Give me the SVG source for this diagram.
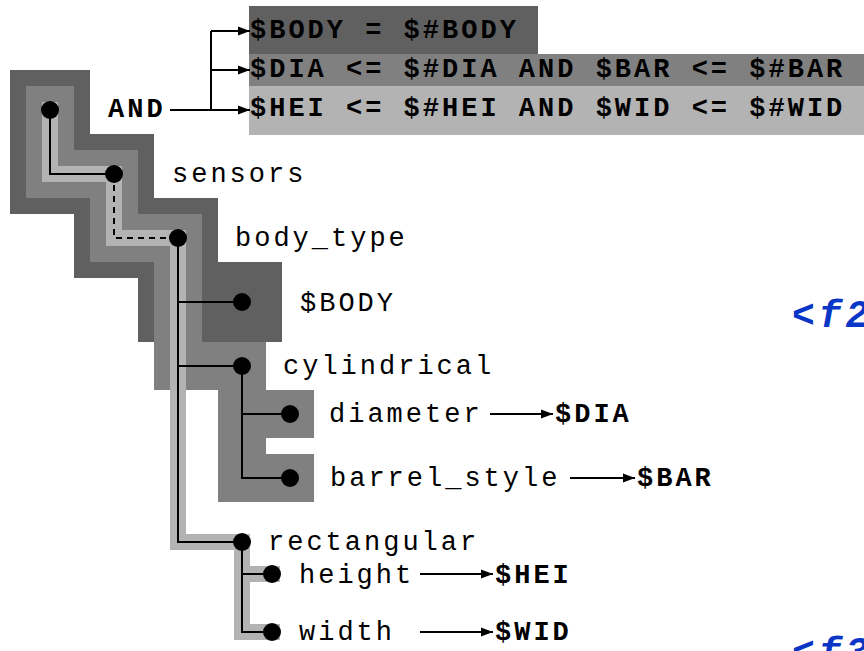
<svg xmlns="http://www.w3.org/2000/svg" width="864" height="651" viewBox="0 0 864 651">
<style>
.t{font-family:"Liberation Mono","Courier New",monospace;font-size:27px;letter-spacing:3px;fill:#000}
.b{font-weight:bold}
.blue{font-family:"Liberation Mono","Courier New",monospace;font-size:38px;letter-spacing:4px;font-weight:bold;font-style:italic;fill:#0a36c8}
.ln{stroke:#000;stroke-width:2;fill:none}
.dash{stroke-dasharray:6 5}
.arr{stroke:#000;stroke-width:2;fill:none;marker-end:url(#ah)}
.dot{fill:#000}
.band{fill:none;stroke-linecap:square;stroke-linejoin:miter}
</style>
<defs>
<marker id="ah" viewBox="0 0 12 10" refX="12" refY="5" markerWidth="12" markerHeight="10" markerUnits="userSpaceOnUse" orient="auto">
<path d="M0,0.5 L12,5 L0,9.5 Z" fill="#000"/>
</marker>
</defs>
<rect width="864" height="651" fill="#fff"/>
<!-- shading bands -->
<g id="shading">
<path class="band" stroke="#606060" stroke-width="80" d="M50,110 V174 H114 V238 H178 V302 H242"/>
<path class="band" stroke="#808080" stroke-width="48" d="M50,110 V174 H114 V238 H178 V366 H242 V478 H290 M242,414 H290"/>
<path class="band" stroke="#b3b3b3" stroke-width="16" d="M50,110 V174 H114 V238 H178 V542 H242 V632 H272 M242,574 H272"/>
</g>
<!-- condition boxes -->
<g id="conditions">
<rect x="249" y="6" width="289" height="48" fill="#606060"/>
<rect x="249" y="54" width="615" height="32" fill="#808080"/>
<rect x="249" y="86" width="615" height="49" fill="#b3b3b3"/>
<text class="t b" x="250" y="38">$BODY = $#BODY</text>
<text class="t b" x="250" y="77">$DIA &lt;= $#DIA AND $BAR &lt;= $#BAR</text>
<text class="t b" x="250" y="116">$HEI &lt;= $#HEI AND $WID &lt;= $#WID</text>
</g>
<!-- connectors -->
<g id="connectors">
<path class="ln" d="M50,110 V174 H114"/>
<path class="ln dash" d="M114,174 V238 H178"/>
<path class="ln" d="M178,238 V542 H242 M178,302 H242 M178,366 H242"/>
<path class="ln" d="M242,366 V478 H290 M242,414 H290"/>
<path class="ln" d="M242,542 V632 H272 M242,574 H272"/>
<path class="ln" d="M170,110 H211 M211,31 V110"/>
<path class="arr" d="M211,31 H250"/>
<path class="arr" d="M211,70 H250"/>
<path class="arr" d="M211,110 H250"/>
<path class="arr" d="M490,414 H553"/>
<path class="arr" d="M570,478 H635"/>
<path class="arr" d="M420,574 H493"/>
<path class="arr" d="M420,632 H493"/>
</g>
<!-- nodes -->
<g id="node-and"><circle class="dot" cx="50" cy="110" r="9"/><text class="t b" x="108" y="117">AND</text></g>
<g id="node-sensors"><circle class="dot" cx="114" cy="174" r="9"/><text class="t" x="172" y="182">sensors</text></g>
<g id="node-body_type"><circle class="dot" cx="178" cy="238" r="9"/><text class="t" x="235" y="246">body_type</text></g>
<g id="node-body"><circle class="dot" cx="242" cy="302" r="9"/><text class="t" x="300" y="311">$BODY</text></g>
<g id="node-cylindrical"><circle class="dot" cx="242" cy="366" r="9"/><text class="t" x="283" y="374">cylindrical</text></g>
<g id="node-diameter"><circle class="dot" cx="290" cy="414" r="9"/><text class="t" x="329" y="422">diameter</text><text class="t b" x="555" y="422">$DIA</text></g>
<g id="node-barrel_style"><circle class="dot" cx="290" cy="478" r="9"/><text class="t" x="330" y="486">barrel_style</text><text class="t b" x="637" y="486">$BAR</text></g>
<g id="node-rectangular"><circle class="dot" cx="242" cy="542" r="9"/><text class="t" x="268" y="550">rectangular</text></g>
<g id="node-height"><circle class="dot" cx="272" cy="574" r="9"/><text class="t" x="299" y="583">height</text><text class="t b" x="495" y="583">$HEI</text></g>
<g id="node-width"><circle class="dot" cx="272" cy="632" r="9"/><text class="t" x="299" y="640">width</text><text class="t b" x="495" y="640">$WID</text></g>
<g id="labels">
<text class="blue" x="792" y="327">&lt;f2</text>
<text class="blue" x="792" y="664">&lt;f3</text>
</g>
</svg>
